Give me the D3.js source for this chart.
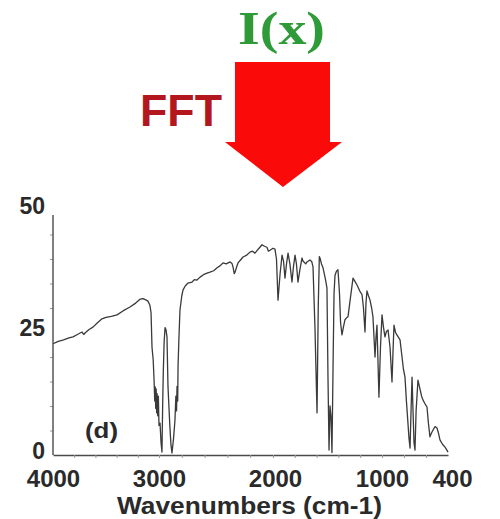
<!DOCTYPE html>
<html>
<head>
<meta charset="utf-8">
<script src="https://cdn.jsdelivr.net/npm/d3@7"></script>
<style>
  html, body { margin: 0; padding: 0; background: #fff; }
  svg { display: block; }
  text { font-family: "Liberation Sans", Arial, sans-serif; font-weight: bold; }
</style>
</head>
<body>
<svg id="chart" width="500" height="519"></svg>
<script>
// IR spectrum (transmittance vs wavenumber), obtained by FFT of the interferogram I(x)
const wavenumbers = [
  4000, 3950, 3900, 3850, 3811, 3770, 3726, 3710, 3698, 3660, 3623, 3580, 3538, 3500, 3450, 3396,
  3340, 3274, 3220, 3179, 3151, 3120, 3104, 3085, 3075, 3066, 3055, 3046, 3040, 3036, 3031, 3027,
  3022, 3018, 3012, 3006, 3000, 2991, 2982, 2974, 2968, 2962, 2955, 2947, 2938, 2930, 2921, 2905,
  2895, 2886, 2872, 2860, 2852, 2846, 2842, 2836, 2833, 2825, 2816, 2800, 2789, 2770, 2746, 2710,
  2690, 2667, 2640, 2610, 2579, 2553, 2520, 2491, 2465, 2439, 2410, 2377, 2360, 2351, 2340, 2333,
  2320, 2307, 2285, 2263, 2230, 2202, 2180, 2158, 2130, 2096, 2075, 2053, 2040, 2026, 2000, 1982,
  1968, 1954, 1935, 1917, 1903, 1890, 1876, 1862, 1845, 1826, 1812, 1798, 1785, 1771, 1752, 1734,
  1725, 1700, 1688, 1661, 1645, 1633, 1615, 1596, 1585, 1575, 1569, 1555, 1541, 1520, 1505, 1495,
  1486, 1477, 1468, 1459, 1448, 1440, 1431, 1418, 1404, 1390, 1380, 1367, 1355, 1340, 1325, 1312,
  1290, 1266, 1250, 1229, 1205, 1183, 1170, 1156, 1147, 1138, 1124, 1110, 1095, 1083, 1064, 1055,
  1046, 1038, 1028, 1014, 1000, 986, 973, 960, 945, 927, 909, 900, 891, 877, 864, 850,
  836, 818, 805, 791, 778, 764, 755, 745, 736, 727, 718, 709, 700, 690, 673, 655,
  640, 627, 610, 591, 578, 564, 550, 536, 518, 500, 487, 473, 450, 427, 410, 400
];
const transmittance = [
  22.7, 23.2, 23.5, 23.9, 24.1, 24.6, 25.1, 24.6, 24.9, 25.6, 26.1, 27.0, 27.8, 28.1, 28.3, 28.6,
  29.4, 30.2, 31.0, 31.8, 31.9, 31.6, 31.4, 30.5, 29.0, 22.0, 19.5, 15.0, 11.0, 13.9, 9.5, 13.5,
  8.6, 12.5, 8.0, 12.0, 6.0, 6.5, 2.5, 0.6, 10.0, 17.3, 23.0, 26.0, 25.5, 24.1, 13.9, 6.0,
  2.0, 0.4, 3.5, 7.1, 12.0, 9.0, 14.0, 11.0, 18.0, 24.0, 29.6, 32.5, 33.7, 34.5, 35.1, 35.3,
  35.8, 35.7, 36.3, 36.8, 37.1, 37.3, 37.6, 38.2, 38.6, 39.2, 39.0, 39.4, 39.1, 38.4, 37.0, 37.3,
  38.3, 39.2, 39.8, 40.4, 40.8, 41.4, 41.6, 41.2, 42.0, 42.9, 42.6, 42.4, 41.6, 41.8, 42.2, 42.0,
  40.0, 31.6, 37.0, 40.8, 39.5, 36.1, 39.0, 41.2, 39.0, 35.3, 38.5, 40.8, 39.0, 35.3, 38.0, 40.2,
  39.6, 39.0, 39.4, 39.8, 39.5, 38.4, 26.0, 8.6, 30.0, 40.5, 40.2, 39.0, 38.2, 36.0, 34.1, 15.0,
  1.0, 10.0, 8.0, 0.5, 20.0, 33.0, 36.7, 37.5, 37.8, 33.0, 27.0, 24.5, 26.0, 27.6, 28.0, 28.2,
  32.0, 36.1, 35.5, 34.7, 33.5, 32.7, 30.0, 25.1, 31.0, 33.5, 32.5, 31.6, 30.0, 28.2, 20.0, 24.0,
  26.5, 20.0, 11.8, 22.0, 28.6, 26.0, 24.1, 25.2, 25.5, 22.0, 14.9, 21.0, 26.5, 25.0, 24.5, 24.0,
  23.5, 20.0, 17.5, 15.9, 11.0, 6.5, 3.5, 1.4, 9.0, 15.9, 9.0, 2.5, 1.0, 9.0, 15.3, 13.5,
  12.0, 11.2, 10.5, 9.8, 6.5, 3.7, 4.5, 5.1, 5.8, 5.5, 4.5, 3.1, 2.2, 1.6, 1.0, 0.6
];

// Axis tick values and labels
const xTickValues = [4000, 3000, 2000, 1000, 400];
const xMinorTicks = d3.range(3800, 400, -200);
const yTickValues = [0, 25, 50];
const yMinorTicks = [5, 10, 15, 20, 30, 35, 40, 45];
const yAxisTop = 49;
const xAxisTitle = "Wavenumbers (cm-1)";
const panelLabel = "(d)";
const topLabel = "I(x)";
const arrowLabel = "FFT";

const svg = d3.select("#chart");

// Wavenumber axis is piecewise linear (denser above 2000 cm-1 on the paper chart)
const x = d3.scaleLinear()
  .domain([4000, 3000, 2000, 1000, 400])
  .range([53, 159, 273, 382, 448]);
const y = d3.scaleLinear().domain([0, 50]).range([455, 210]);

const data = wavenumbers.map((w, i) => ({ w, t: transmittance[i] }));

// Spectrum trace
svg.append("path")
  .datum(data)
  .attr("fill", "none")
  .attr("stroke", "#3a3a3a")
  .attr("stroke-width", 1.3)
  .attr("stroke-linejoin", "round")
  .attr("d", d3.line().x(d => x(d.w)).y(d => y(d.t)));

// X axis: line, minor ticks, labels
const gx = svg.append("g").attr("transform", `translate(0,${y(0)})`);
gx.call(d3.axisBottom(x).tickValues(xMinorTicks).tickSize(3).tickSizeOuter(0).tickFormat(""));
gx.select(".domain").attr("stroke", "#4a4a4a").attr("stroke-width", 1.4);
gx.selectAll(".tick line").attr("stroke", "#9a9a9a");

const gxl = svg.append("g").attr("transform", `translate(0,${y(0)})`);
gxl.call(d3.axisBottom(x).tickValues(xTickValues).tickSize(0).tickPadding(0).tickFormat(d3.format("d")));
gxl.select(".domain").remove();
gxl.selectAll(".tick text")
  .attr("y", 32).attr("dy", 0)
  .attr("fill", "#2a2a2a")
  .style("font-size", "24px")
  .style("font-family", "'Liberation Sans', Arial, sans-serif")
  .style("font-weight", "bold");
gxl.selectAll(".tick").filter(d => d === 400).select("text").attr("dx", 4);
gxl.selectAll(".tick").filter(d => d === 2000).select("text").attr("dx", 2);

// Y axis: line, minor ticks, labels
const gy = svg.append("g").attr("transform", `translate(${x(4000)},0)`);
gy.call(d3.axisLeft(y).tickValues(yMinorTicks).tickSize(3).tickSizeOuter(0).tickFormat(""));
gy.select(".domain").remove();
gy.selectAll(".tick line").attr("stroke", "#9a9a9a");
gy.append("line")
  .attr("x1", 0).attr("x2", 0)
  .attr("y1", y(0)).attr("y2", y(yAxisTop))
  .attr("stroke", "#4a4a4a").attr("stroke-width", 1.4);

const gyl = svg.append("g").attr("transform", `translate(${x(4000)},0)`);
gyl.call(d3.axisLeft(y).tickValues(yTickValues).tickSize(0).tickPadding(8));
gyl.select(".domain").remove();
gyl.selectAll(".tick text")
  .attr("dy", "0.13em")
  .attr("fill", "#2a2a2a")
  .style("font-size", "23px")
  .style("font-family", "'Liberation Sans', Arial, sans-serif")
  .style("font-weight", "bold");

// Axis title
svg.append("text")
  .attr("x", 117).attr("y", 514)
  .attr("textLength", 265).attr("lengthAdjust", "spacingAndGlyphs")
  .attr("fill", "#2a2a2a")
  .style("font-size", "24px")
  .text(xAxisTitle);

// Panel label
svg.append("text")
  .attr("x", 85).attr("y", 438)
  .attr("textLength", 33).attr("lengthAdjust", "spacingAndGlyphs")
  .attr("fill", "#2a2a2a")
  .style("font-size", "22px")
  .text(panelLabel);

// Interferogram label above the arrow
svg.append("text")
  .attr("x", 238).attr("y", 44)
  .attr("textLength", 87).attr("lengthAdjust", "spacingAndGlyphs")
  .attr("fill", "#2e9a38")
  .style("font-family", "'Liberation Serif', 'Times New Roman', serif")
  .style("font-size", "47px")
  .style("font-weight", "bold")
  .text(topLabel);

// FFT arrow
const arrow = d3.path();
arrow.moveTo(235, 62);
arrow.lineTo(330, 62);
arrow.lineTo(330, 142);
arrow.lineTo(342, 142);
arrow.lineTo(283, 187);
arrow.lineTo(225, 142);
arrow.lineTo(235, 142);
arrow.closePath();
svg.append("path").attr("d", arrow.toString()).attr("fill", "#fb0a0a");

svg.append("text")
  .attr("x", 140).attr("y", 126)
  .attr("textLength", 82).attr("lengthAdjust", "spacingAndGlyphs")
  .attr("fill", "#b3161c")
  .style("font-size", "44px")
  .text(arrowLabel);
</script>
</body>
</html>
